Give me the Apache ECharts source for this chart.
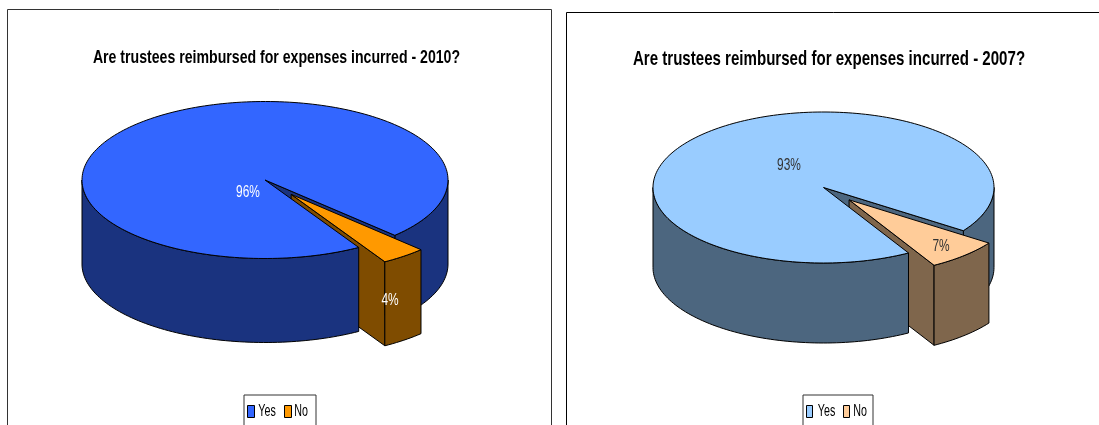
<!DOCTYPE html>
<html>
<head>
<meta charset="utf-8">
<title>Trustee expenses</title>
<style>html,body{margin:0;padding:0;background:#fff;overflow:hidden}#chart{width:1099px;height:425px}</style>
<script src="https://cdn.jsdelivr.net/npm/echarts@6/dist/echarts.min.js"></script>
</head>
<body>
<div id="chart"></div>
<script>
// Survey answers, in percent
const categories = ['Yes', 'No'];
const values2010 = [96, 4];
const values2007 = [93, 7];
const title2010 = 'Are trustees reimbursed for expenses incurred - 2010?';
const title2007 = 'Are trustees reimbursed for expenses incurred - 2007?';

const FONT = '"Liberation Sans", Arial, sans-serif';
const STEP = 1.5; // degrees between sampled rim points

// Geometry and palette of the two tilted pies; text is condensed horizontally via scaleX
const pies = [
  {
    values: values2010, title: title2010,
    titleAt: [276.5, 57.5], titleSize: 19, titleScale: 0.743,
    cx: 265, cy: 180, rx: 183, ry: 78.5, depth: 84, noEnd: 59.2, explode: 0.232,
    panel: [7.5, 9.5, 544, 450], panelStroke: '#333',
    top: ['#3366FF', '#FF9900'], wall: ['#1A337F', '#7F4C00'],
    labelColor: ['#fff', '#fff'], labelAt: [[-17, 12], [125, 120]],
    legend: { left: 244, top: 395, marker: 7, gap: 29, padRight: 24, textX: [267, 301] }
  },
  {
    values: values2007, title: title2007,
    titleAt: [829, 59.5], titleSize: 21, titleScale: 0.718,
    cx: 823.5, cy: 187.5, rx: 170.5, ry: 75.5, depth: 80, noEnd: 60.1, explode: 0.222,
    panel: [566.5, 12.5, 700, 450], panelStroke: '#000',
    top: ['#99CCFF', '#FFCC99'], wall: ['#4C667F', '#7F664C'],
    labelColor: ['#333', '#333'], labelAt: [[-34.5, -22], [117.5, 59]],
    legend: { left: 803, top: 395, marker: 6, gap: 30, padRight: 23, textX: [826.5, 860] }
  }
];

const rad = d => d * Math.PI / 180;
const rimPoint = (p, deg, dx, dy) => [
  p.cx + dx + p.rx * Math.cos(rad(deg)),
  p.cy + dy + p.ry * Math.sin(rad(deg))
];
function rim(p, from, to, dx, dy) {
  const pts = [];
  const n = Math.max(1, Math.ceil(Math.abs(to - from) / STEP));
  for (let i = 0; i <= n; i++) pts.push(rimPoint(p, from + (to - from) * i / n, dx, dy));
  return pts;
}
function face(points, fill, z2) {
  return {
    type: 'polygon', z2, silent: true,
    shape: { points },
    style: { fill, stroke: '#000', lineWidth: 1, lineJoin: 'round' }
  };
}
const drop = (pts, d) => pts.map(q => [q[0], q[1] + d]);
// Curved wall between two rim angles
const wallBetween = (p, from, to, dx, dy, fill, z2) => {
  const upper = rim(p, from, to, dx, dy);
  return face(upper.concat(drop(upper, p.depth).reverse()), fill, z2);
};
function labelEl(p, i, value) {
  return {
    type: 'text', z2: 20, silent: true,
    x: p.cx + p.labelAt[i][0], y: p.cy + p.labelAt[i][1], scaleX: 0.7,
    style: {
      text: value + '%', fill: p.labelColor[i], font: '17px ' + FONT,
      align: 'center', verticalAlign: 'middle'
    }
  };
}

// The "Yes" body: back wall, cut face, front wall and top around the notch
function renderYes(p) {
  const total = p.values[0] + p.values[1];
  const notch = p.values[1] / total * 360;
  const start = p.noEnd - notch;
  const centre = [p.cx, p.cy];
  const cut = rimPoint(p, start, 0, 0);
  const topPts = [centre].concat(rim(p, p.noEnd, start + 360, 0, 0));
  return {
    type: 'group',
    children: [
      wallBetween(p, 0, start, 0, 0, p.wall[0], 1),
      face([centre, cut, [cut[0], cut[1] + p.depth], [p.cx, p.cy + p.depth]], p.wall[0], 2),
      wallBetween(p, p.noEnd, 180, 0, 0, p.wall[0], 10),
      face(topPts, p.top[0], 11),
      labelEl(p, 0, p.values[0])
    ]
  };
}

// The pulled-out "No" wedge
function renderNo(p) {
  const total = p.values[0] + p.values[1];
  const sweep = p.values[1] / total * 360;
  const start = p.noEnd - sweep;
  const mid = rad(p.noEnd - sweep / 2);
  const dx = p.explode * p.rx * Math.cos(mid);
  const dy = p.explode * p.ry * Math.sin(mid);
  const apex = [p.cx + dx, p.cy + dy];
  const outer = rimPoint(p, p.noEnd, dx, dy);
  return {
    type: 'group',
    children: [
      face([apex, outer, [outer[0], outer[1] + p.depth], [apex[0], apex[1] + p.depth]], p.wall[1], 3),
      wallBetween(p, start, p.noEnd, dx, dy, p.wall[1], 4),
      face([apex].concat(rim(p, start, p.noEnd, dx, dy)), p.top[1], 5),
      labelEl(p, 1, p.values[1])
    ]
  };
}

const series = [];
const legend = [];
const panels = [];
const texts = [];
pies.forEach(p => {
  panels.push({
    type: 'rect', z: -1, silent: true,
    shape: { x: p.panel[0], y: p.panel[1], width: p.panel[2], height: p.panel[3] },
    style: { fill: '#fff', stroke: p.panelStroke, lineWidth: 1 }
  });
  texts.push({
    type: 'text', z: 5, silent: true,
    x: p.titleAt[0], y: p.titleAt[1], scaleX: p.titleScale,
    style: {
      text: p.title, fill: '#000', font: 'bold ' + p.titleSize + 'px ' + FONT,
      align: 'center', verticalAlign: 'middle'
    }
  });
  // Swatches and frame come from the legend component; its names are set condensed below
  legend.push({
    left: p.legend.left, top: p.legend.top, orient: 'horizontal', selectedMode: false,
    padding: [10, p.legend.padRight, 10, 3], itemGap: p.legend.gap,
    itemWidth: p.legend.marker, itemHeight: 12,
    borderColor: '#333', borderWidth: 1, backgroundColor: '#fff',
    formatter: () => '',
    data: categories.map((name, i) => ({
      name, icon: 'rect',
      itemStyle: { color: p.top[i], borderColor: '#000', borderWidth: 1 }
    }))
  });
  categories.forEach((name, i) => {
    texts.push({
      type: 'text', z: 5, silent: true,
      x: p.legend.textX[i], y: p.legend.top + 16.5, scaleX: 0.63,
      style: {
        text: name, fill: '#000', font: '17px ' + FONT,
        align: 'center', verticalAlign: 'middle'
      }
    });
    series.push({
      type: 'custom', name, coordinateSystem: 'none', animation: false, silent: true,
      itemStyle: { color: p.top[i] },
      data: [p.values[i]],
      renderItem: () => (i === 0 ? renderYes(p) : renderNo(p))
    });
  });
});

const chart = echarts.init(document.getElementById('chart'), null, { renderer: 'canvas' });
chart.setOption({
  animation: false, backgroundColor: '#fff',
  legend, series, graphic: { elements: panels.concat(texts) }
});
</script>
</body>
</html>
